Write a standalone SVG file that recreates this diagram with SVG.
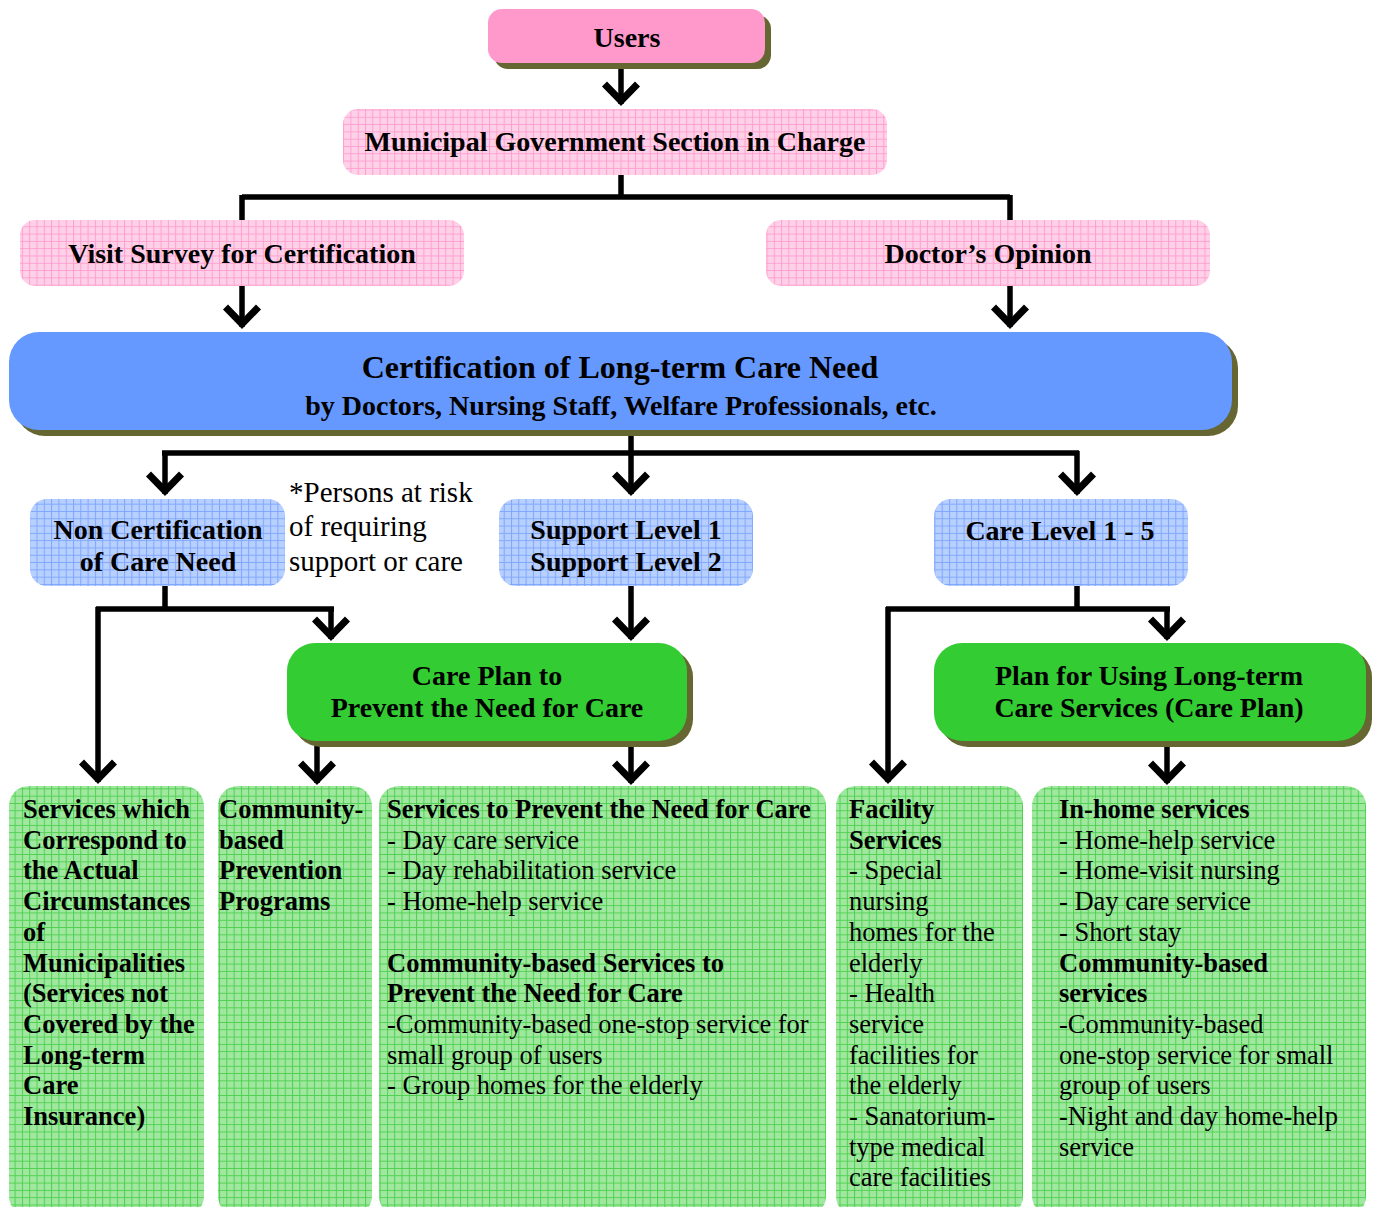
<svg xmlns="http://www.w3.org/2000/svg" width="1377" height="1207" viewBox="0 0 1377 1207">
<defs>
<pattern id="gPink" patternUnits="userSpaceOnUse" width="7.3" height="7.3">
<rect width="7.3" height="7.3" fill="#ffd1e8"/>
<path d="M0,0.5H7.3M0.5,0V7.3" stroke="#ff9fcf" stroke-width="1" fill="none"/>
</pattern>
<pattern id="gBlue" patternUnits="userSpaceOnUse" width="7.3" height="7.3">
<rect width="7.3" height="7.3" fill="#b8d0ff"/>
<path d="M0,0.5H7.3M0.5,0V7.3" stroke="#7fa6ff" stroke-width="1" fill="none"/>
</pattern>
<pattern id="gGreen" patternUnits="userSpaceOnUse" width="7.3" height="7.3">
<rect width="7.3" height="7.3" fill="#a0e8a0"/>
<path d="M0,0.5H7.3M0.5,0V7.3" stroke="#4fd04f" stroke-width="1" fill="none"/>
</pattern>
<marker id="chev" viewBox="-26 -20 32 40" refX="0" refY="0" markerWidth="32" markerHeight="40" markerUnits="userSpaceOnUse" orient="auto">
<path d="M-20,-16.5L-3,0L-20,16.5" fill="none" stroke="#000" stroke-width="7" stroke-miterlimit="10"/>
</marker>
<style>
text{font-family:"Liberation Serif","Times New Roman",serif;fill:#000}
.b{font-weight:bold}
.t28{font-size:28px}
.t26{font-size:26.5px}
.c{text-anchor:middle}
.sh{fill:#666633}
.conn{fill:none;stroke:#000;stroke-width:5.5;stroke-linejoin:miter}
.arr{marker-end:url(#chev)}
</style>
</defs>

<g id="connectors">
<path class="conn arr" d="M621,62V104"/>
<path class="conn" d="M621,175V197M242,197H1010"/>
<path class="conn" d="M242,195V221M1010,195V221"/>
<path class="conn arr" d="M242,286V327"/>
<path class="conn arr" d="M1010,286V327"/>
<path class="conn" d="M631,430V453M162,453H1079"/>
<path class="conn arr" d="M165,451V494"/>
<path class="conn arr" d="M631,451V494"/>
<path class="conn arr" d="M1077,451V494"/>
<path class="conn" d="M165,586V609M96,609H334"/>
<path class="conn arr" d="M98,607V782"/>
<path class="conn arr" d="M331,607V639"/>
<path class="conn arr" d="M631,586V639"/>
<path class="conn" d="M1077,586V609M886,609H1170"/>
<path class="conn arr" d="M888,607V782"/>
<path class="conn arr" d="M1167,607V639"/>
<path class="conn arr" d="M317,741V783"/>
<path class="conn arr" d="M631,741V783"/>
<path class="conn arr" d="M1167,741V783"/>
</g>

<g id="users">
<rect class="sh" x="494" y="15" width="277" height="54" rx="14"/>
<rect x="488" y="9" width="277" height="54" rx="14" fill="#ff99cc"/>
<text class="b t28 c" x="627" y="47">Users</text>
</g>

<g id="municipal">
<rect x="343" y="109" width="544" height="66" rx="15" fill="url(#gPink)"/>
<text class="b t28 c" x="615" y="151">Municipal Government Section in Charge</text>
</g>

<g id="visit-survey">
<rect x="20" y="220" width="444" height="66" rx="15" fill="url(#gPink)"/>
<text class="b t28 c" x="242" y="263">Visit Survey for Certification</text>
</g>

<g id="doctors-opinion">
<rect x="766" y="220" width="444" height="66" rx="15" fill="url(#gPink)"/>
<text class="b t28 c" x="988" y="263">Doctor’s Opinion</text>
</g>

<g id="certification">
<rect class="sh" x="15" y="338" width="1223" height="98" rx="30"/>
<rect x="9" y="332" width="1223" height="98" rx="30" fill="#6699ff"/>
<text class="b c" x="620" y="378" style="font-size:32px">Certification of Long-term Care Need</text>
<text class="b t28 c" x="621" y="415">by Doctors, Nursing Staff, Welfare Professionals, etc.</text>
</g>

<g id="non-certification">
<rect x="30" y="499" width="255" height="87" rx="17" fill="url(#gBlue)"/>
<text class="b t28 c" x="158" y="539">Non Certification</text>
<text class="b t28 c" x="158" y="571">of Care Need</text>
</g>

<g id="note">
<text x="289" y="502" style="font-size:29px">*Persons at risk</text>
<text x="289" y="536" style="font-size:29px">of requiring</text>
<text x="289" y="571" style="font-size:29px">support or care</text>
</g>

<g id="support-level">
<rect x="499" y="499" width="254" height="87" rx="17" fill="url(#gBlue)"/>
<text class="b t28 c" x="626" y="539">Support Level 1</text>
<text class="b t28 c" x="626" y="571">Support Level 2</text>
</g>

<g id="care-level">
<rect x="934" y="499" width="254" height="87" rx="17" fill="url(#gBlue)"/>
<text class="b t28 c" x="1060" y="540">Care Level 1 - 5</text>
</g>

<g id="care-plan-prevent">
<rect class="sh" x="293" y="649" width="400" height="98" rx="28"/>
<rect x="287" y="643" width="400" height="98" rx="28" fill="#33cc33"/>
<text class="b t28 c" x="487" y="685">Care Plan to</text>
<text class="b t28 c" x="487" y="717">Prevent the Need for Care</text>
</g>

<g id="care-plan-long-term">
<rect class="sh" x="940" y="649" width="432" height="98" rx="28"/>
<rect x="934" y="643" width="432" height="98" rx="28" fill="#33cc33"/>
<text class="b t28 c" x="1149" y="685">Plan for Using Long-term</text>
<text class="b t28 c" x="1149" y="717">Care Services (Care Plan)</text>
</g>

<g id="municipal-services">
<rect x="9" y="786" width="195" height="430" rx="20" fill="url(#gGreen)"/>
<text class="b t26" x="23" y="818">
<tspan x="23">Services which</tspan>
<tspan x="23" dy="30.7">Correspond to</tspan>
<tspan x="23" dy="30.7">the Actual</tspan>
<tspan x="23" dy="30.7">Circumstances</tspan>
<tspan x="23" dy="30.7">of</tspan>
<tspan x="23" dy="30.7">Municipalities</tspan>
<tspan x="23" dy="30.7">(Services not</tspan>
<tspan x="23" dy="30.7">Covered by the</tspan>
<tspan x="23" dy="30.7">Long-term</tspan>
<tspan x="23" dy="30.7">Care</tspan>
<tspan x="23" dy="30.7">Insurance)</tspan>
</text>
</g>

<g id="community-prevention">
<rect x="218" y="786" width="154" height="430" rx="20" fill="url(#gGreen)"/>
<text class="b t26" x="219" y="818">
<tspan x="219">Community-</tspan>
<tspan x="219" dy="30.7">based</tspan>
<tspan x="219" dy="30.7">Prevention</tspan>
<tspan x="219" dy="30.7">Programs</tspan>
</text>
</g>

<g id="prevention-services">
<rect x="379" y="786" width="447" height="430" rx="20" fill="url(#gGreen)"/>
<text class="t26" x="387" y="818">
<tspan x="387" class="b">Services to Prevent the Need for Care</tspan>
<tspan x="387" dy="30.7">- Day care service</tspan>
<tspan x="387" dy="30.7">- Day rehabilitation service</tspan>
<tspan x="387" dy="30.7">- Home-help service</tspan>
<tspan x="387" dy="61.4" class="b">Community-based Services to</tspan>
<tspan x="387" dy="30.7" class="b">Prevent the Need for Care</tspan>
<tspan x="387" dy="30.7">-Community-based one-stop service for</tspan>
<tspan x="387" dy="30.7">small group of users</tspan>
<tspan x="387" dy="30.7">- Group homes for the elderly</tspan>
</text>
</g>

<g id="facility-services">
<rect x="836" y="786" width="187" height="430" rx="20" fill="url(#gGreen)"/>
<text class="t26" x="849" y="818">
<tspan x="849" class="b">Facility</tspan>
<tspan x="849" dy="30.7" class="b">Services</tspan>
<tspan x="849" dy="30.7">- Special</tspan>
<tspan x="849" dy="30.7">nursing</tspan>
<tspan x="849" dy="30.7">homes for the</tspan>
<tspan x="849" dy="30.7">elderly</tspan>
<tspan x="849" dy="30.7">- Health</tspan>
<tspan x="849" dy="30.7">service</tspan>
<tspan x="849" dy="30.7">facilities for</tspan>
<tspan x="849" dy="30.7">the elderly</tspan>
<tspan x="849" dy="30.7">- Sanatorium-</tspan>
<tspan x="849" dy="30.7">type medical</tspan>
<tspan x="849" dy="30.7">care facilities</tspan>
</text>
</g>

<g id="in-home-services">
<rect x="1032" y="786" width="334" height="430" rx="20" fill="url(#gGreen)"/>
<text class="t26" x="1059" y="818">
<tspan x="1059" class="b">In-home services</tspan>
<tspan x="1059" dy="30.7">- Home-help service</tspan>
<tspan x="1059" dy="30.7">- Home-visit nursing</tspan>
<tspan x="1059" dy="30.7">- Day care service</tspan>
<tspan x="1059" dy="30.7">- Short stay</tspan>
<tspan x="1059" dy="30.7" class="b">Community-based</tspan>
<tspan x="1059" dy="30.7" class="b">services</tspan>
<tspan x="1059" dy="30.7">-Community-based</tspan>
<tspan x="1059" dy="30.7">one-stop service for small</tspan>
<tspan x="1059" dy="30.7">group of users</tspan>
<tspan x="1059" dy="30.7">-Night and day home-help</tspan>
<tspan x="1059" dy="30.7">service</tspan>
</text>
</g>
</svg>
